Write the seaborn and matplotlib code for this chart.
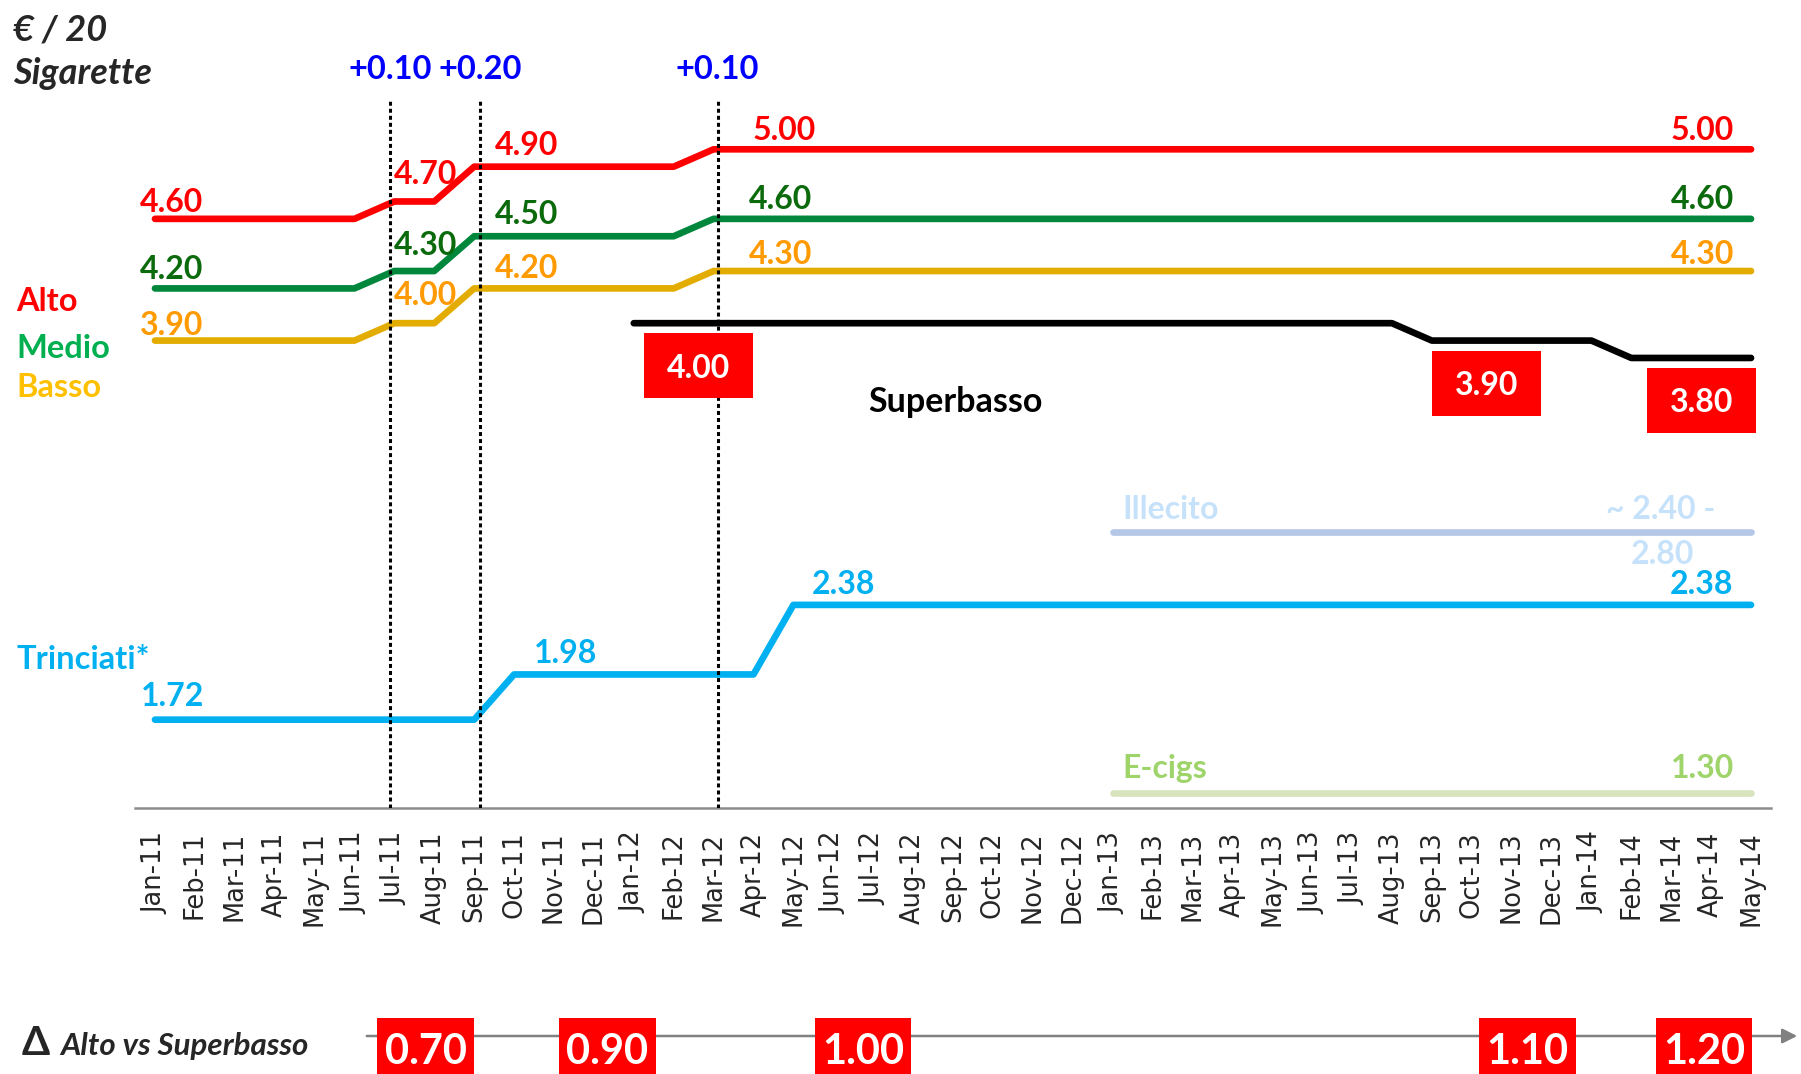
import matplotlib
matplotlib.use('Agg')
import matplotlib.pyplot as plt
import matplotlib.transforms as mtransforms
from matplotlib.patches import Rectangle, FancyArrowPatch
import numpy as np
import seaborn as sns

sns.set_style('white')
plt.rcParams['font.family'] = ['Lato', 'DejaVu Sans']

# month axis
month_labels = ['Jan-11', 'Feb-11', 'Mar-11', 'Apr-11', 'May-11', 'Jun-11', 'Jul-11', 'Aug-11',
                'Sep-11', 'Oct-11', 'Nov-11', 'Dec-11', 'Jan-12', 'Feb-12', 'Mar-12', 'Apr-12',
                'May-12', 'Jun-12', 'Jul-12', 'Aug-12', 'Sep-12', 'Oct-12', 'Nov-12', 'Dec-12',
                'Jan-13', 'Feb-13', 'Mar-13', 'Apr-13', 'May-13', 'Jun-13', 'Jul-13', 'Aug-13',
                'Sep-13', 'Oct-13', 'Nov-13', 'Dec-13', 'Jan-14', 'Feb-14', 'Mar-14', 'Apr-14',
                'May-14']

# price series (vertices of each line)
cig_months = ['Jan-11', 'Jun-11', 'Jul-11', 'Aug-11', 'Sep-11', 'Feb-12', 'Mar-12', 'May-14']
alto = [4.60, 4.60, 4.70, 4.70, 4.90, 4.90, 5.00, 5.00]
medio = [4.20, 4.20, 4.30, 4.30, 4.50, 4.50, 4.60, 4.60]
basso = [3.90, 3.90, 4.00, 4.00, 4.20, 4.20, 4.30, 4.30]

superbasso_months = ['Jan-12', 'Aug-13', 'Sep-13', 'Jan-14', 'Feb-14', 'May-14']
superbasso = [4.00, 4.00, 3.90, 3.90, 3.80, 3.80]

trinciati_months = ['Jan-11', 'Sep-11', 'Oct-11', 'Apr-12', 'May-12', 'May-14']
trinciati = [1.72, 1.72, 1.98, 1.98, 2.38, 2.38]

late_months = ['Jan-13', 'May-14']
illecito = [2.80, 2.80]
ecigs = [1.30, 1.30]

# price increases (dotted lines)
increase_labels = ['+0.10', '+0.20', '+0.10']
increase_pos = [5.9, 8.15, 14.1]

# delta alto vs superbasso
delta_values = [0.70, 0.90, 1.00, 1.10, 1.20]
delta_box_px = [(377, 474), (559, 656), (815, 911), (1479, 1576), (1656, 1752)]

W, H = 1801, 1074
AX_L, AX_R, AX_T, AX_B = 135, 1771, 100, 808
Y0, Y1 = 1.212, 5.2835


def fx(px):
    return px / W


def fy(py):
    return 1 - py / H


def size_data(w_px, h_px):
    return w_px * 41 / (AX_R - AX_L), h_px * (Y1 - Y0) / (AX_B - AX_T)


fig = plt.figure(figsize=(W / 100, H / 100), dpi=100)
ax = fig.add_axes([fx(AX_L), fy(AX_B), (AX_R - AX_L) / W, (AX_B - AX_T) / H])

series = [
    (cig_months, alto, '#FF0000'),
    (cig_months, medio, '#00873C'),
    (cig_months, basso, '#E3AC00'),
    (superbasso_months, superbasso, '#000000'),
    (trinciati_months, trinciati, '#00B0F0'),
    (late_months, illecito, '#B4C7E7'),
    (late_months, ecigs, '#D7E4BD'),
]
for months, vals, color in series:
    xs = [month_labels.index(m) for m in months]
    sns.lineplot(x=xs, y=vals, ax=ax, color=color, linewidth=4.8, estimator=None,
                 sort=False, legend=False, solid_capstyle='round', zorder=3)

ax.set_xlim(-0.5, 40.5)
ax.set_ylim(Y0, Y1)
ax.set_xlabel('')
ax.set_ylabel('')
ax.set_yticks([])
ax.set_xticks(range(len(month_labels)))
ax.set_xticklabels(month_labels, rotation=90, fontsize=18.5, family='DejaVu Sans')
ax.set_xticks(np.arange(-0.5, 41, 1), minor=True)
ax.tick_params(axis='x', which='major', length=0, pad=17)
ax.tick_params(axis='x', which='minor', length=7.2, width=1.3, color='#8c8c8c', direction='out')
for s in ['left', 'top', 'right']:
    ax.spines[s].set_visible(False)
ax.spines['bottom'].set_color('#8c8c8c')
ax.spines['bottom'].set_linewidth(1.8)

# dotted increase lines + labels
blend = mtransforms.blended_transform_factory(ax.transData, fig.transFigure)
for lab, x in zip(increase_labels, increase_pos):
    ax.axvline(x, color='black', lw=2.2, linestyle=(0, (1.3, 1)), zorder=5)
    ax.text(x, fy(67), lab, transform=blend, color='#0000FF', fontsize=23.5,
            fontweight='bold', ha='center', va='center_baseline')


def value_labels(months, vals, specs, color):
    for idx, dx, dy, ha in specs:
        x = month_labels.index(months[idx])
        ax.annotate(f'{vals[idx]:.2f}', xy=(x, vals[idx]), xytext=(dx * 0.72, dy * 0.72),
                    textcoords='offset points', ha=ha, va='center_baseline', color=color,
                    fontsize=23, fontweight='bold', annotation_clip=False, zorder=4)


value_labels(cig_months, alto, [(0, -15, 19, 'left'), (2, 0, 29, 'left'), (4, 21, 24, 'left'),
                                (6, 39, 21, 'left'), (7, -17, 21, 'right')], '#FF0000')
value_labels(cig_months, medio, [(0, -15, 21, 'left'), (2, 0, 28, 'left'), (4, 21, 24, 'left'),
                                 (6, 35, 21.5, 'left'), (7, -17, 21.5, 'right')], '#0B6A0B')
value_labels(cig_months, basso, [(0, -15, 18, 'left'), (2, 0, 30, 'left'), (4, 21, 22.5, 'left'),
                                 (6, 35, 19.5, 'left'), (7, -17, 19.5, 'right')], '#FF9A00')
value_labels(trinciati_months, trinciati, [(0, -14, 26, 'left'), (2, 20, 23.5, 'left'),
                                           (4, 18, 22.5, 'left'), (5, -18, 23, 'right')], '#00B0F0')
value_labels(late_months, ecigs, [(1, -17, 27, 'right')], '#9ED46A')

# illecito range label
xi = month_labels.index(late_months[1])
ax.annotate('~ 2.40 -', xy=(xi, illecito[1]), xytext=(-90 * 0.72, 25 * 0.72),
            textcoords='offset points', ha='center', va='center_baseline', color='#C6E2FA',
            fontsize=23, fontweight='bold', annotation_clip=False)
ax.annotate(f'{illecito[1]:.2f}', xy=(xi, illecito[1]), xytext=(-89 * 0.72, -20 * 0.72),
            textcoords='offset points', ha='center', va='center_baseline', color='#C6E2FA',
            fontsize=23, fontweight='bold', annotation_clip=False)

# series names near the late lines
x13 = month_labels.index(late_months[0])
ax.annotate('Illecito', xy=(x13, illecito[0]), xytext=(10 * 0.72, 25 * 0.72),
            textcoords='offset points', ha='left', va='center_baseline', color='#C6E2FA',
            fontsize=23, fontweight='bold', annotation_clip=False)
ax.annotate('E-cigs', xy=(x13, ecigs[0]), xytext=(10 * 0.72, 27 * 0.72),
            textcoords='offset points', ha='left', va='center_baseline', color='#9ED46A',
            fontsize=23, fontweight='bold', annotation_clip=False)

# superbasso red boxes
box_w, box_h = size_data(109, 65)
_, box_gap = size_data(0, 10)
box_idx = [0, 2, 4]
box_centers = [13.61, 33.38, 38.75]
for idx, xc in zip(box_idx, box_centers):
    v = superbasso[idx]
    ax.add_patch(Rectangle((xc - box_w / 2, v - box_gap - box_h), box_w, box_h,
                           facecolor='#FF0000', edgecolor='none', zorder=6, clip_on=False))
    ax.text(xc, v - box_gap - box_h / 2, f'{v:.2f}', color='white', fontsize=23,
            fontweight='bold', ha='center', va='center_baseline', zorder=7)

fig.text(fx(868), fy(399), 'Superbasso', fontsize=24.5, fontweight='bold', color='black',
         ha='left', va='center_baseline')

# left side texts
fig.text(fx(13), fy(27), '€ / 20', fontsize=26, fontweight='bold', style='italic',
         ha='left', va='center_baseline')
fig.text(fx(13), fy(71), 'Sigarette', fontsize=26, fontweight='bold', style='italic',
         ha='left', va='center_baseline')
for name, py, color in [('Alto', 299, '#FF0000'), ('Medio', 346, '#00B050'),
                        ('Basso', 385, '#FFC000'), ('Trinciati*', 657, '#00B0F0')]:
    fig.text(fx(16), fy(py), name, fontsize=23.5, fontweight='bold', color=color,
             ha='left', va='center_baseline')

# delta row
fig.add_artist(FancyArrowPatch((fx(364), fy(1036)), (fx(1800), fy(1036)),
                               transform=fig.transFigure, arrowstyle='-|>',
                               mutation_scale=22, color='#808080', lw=1.8))
for val, (x0, x1) in zip(delta_values, delta_box_px):
    fig.add_artist(Rectangle((fx(x0), fy(1074)), (x1 - x0) / W, (1074 - 1018) / H,
                             transform=fig.transFigure, facecolor='#FF0000',
                             edgecolor='none', zorder=5))
    fig.text(fx((x0 + x1) / 2), fy(1048), f'{val:.2f}', color='white', fontsize=30,
             fontweight='bold', ha='center', va='center_baseline', zorder=6)

fig.text(fx(22), fy(1040), 'Δ', fontsize=29, fontweight='bold', ha='left',
         va='center_baseline')
fig.text(fx(60), fy(1043), 'Alto vs Superbasso', fontsize=22.5, fontweight='bold',
         style='italic', ha='left', va='center_baseline')

fig.savefig('out.png', dpi=100)
